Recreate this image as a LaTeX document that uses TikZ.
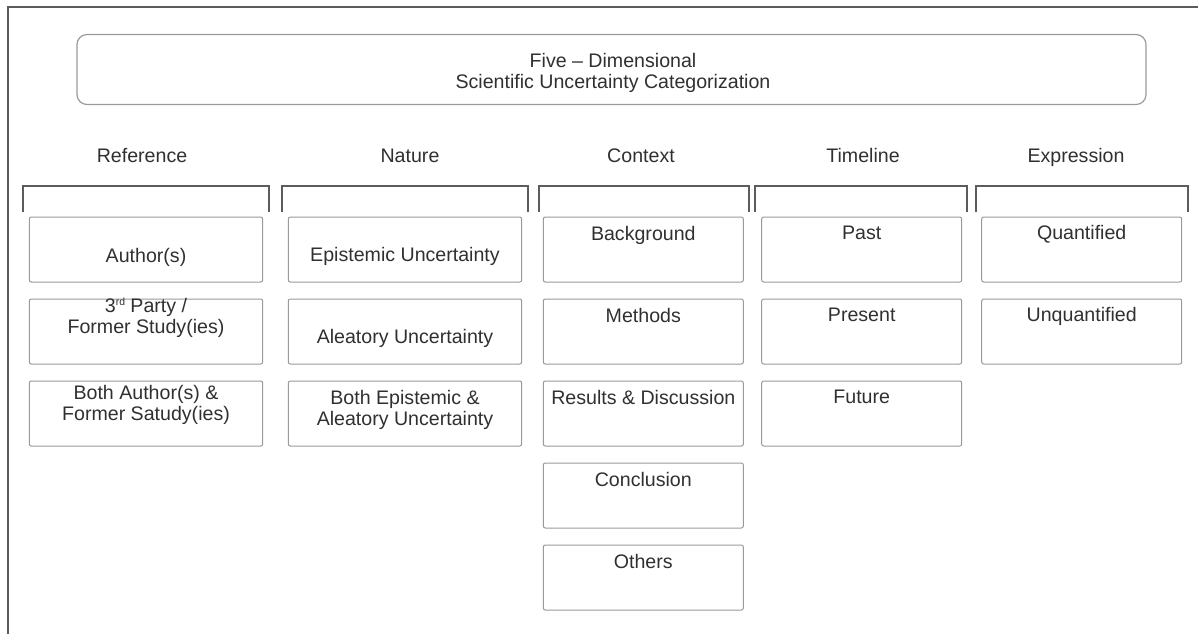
\documentclass[tikz,border=0pt]{standalone}
\usepackage{fontspec}
\setmainfont{Liberation Sans}
\usetikzlibrary{positioning}
\definecolor{boxgray}{HTML}{9A9A9A}
\definecolor{linegray}{HTML}{5C5C5C}
\definecolor{txtgray}{HTML}{303030}

\begin{document}
\begin{tikzpicture}[x=0.5pt,y=-0.5pt,node distance=41pt,
    cell/.style={draw=boxgray,line width=0.5pt,rounded corners=1pt,minimum height=32.5pt,inner sep=0pt},
    wide/.style={cell,minimum width=116.7pt},
    narrow/.style={cell,minimum width=100pt},
    txt/.style={anchor=base,align=center,text=txtgray,inner sep=0pt,font=\fontsize{9.8}{10.5}\selectfont},
    bracket/.style={draw=linegray,line width=0.7pt}]
  \useasboundingbox (0,0) rectangle (1198,634);
  \draw[linegray,line width=1pt] (8,634) -- (8,7) -- (1198,7);

  % title
  \node[draw=boxgray,line width=0.6pt,rounded corners=5pt,minimum width=534.5pt,minimum height=35pt] (title) at (611.5,69.5) {};
  \node[txt] (titletxt) at (613,88) {Five – Dimensional\\Scientific Uncertainty Categorization};

  % dimensions
  \node[txt] (hRef) at (142,162.7) {Reference};
  \node[txt] (hNat) at (410,162.7) {Nature};
  \node[txt] (hCtx) at (641,162.7) {Context};
  \node[txt] (hTim) at (863,162.7) {Timeline};
  \node[txt] (hExp) at (1076,162.7) {Expression};

  \draw[bracket] (23,212) |- (269,186) -- (269,212);
  \draw[bracket] (282,212) |- (528,186) -- (528,212);
  \draw[bracket] (539,212) |- (749,186) -- (749,212);
  \draw[bracket] (755,212) |- (967,186) -- (967,212);
  \draw[bracket] (976,212) |- (1188,186) -- (1188,212);

  % reference
  \node[wide] (ref1) at (146,249.5) {};
  \node[wide] (ref2) [below of=ref1] {};
  \node[wide] (ref3) [below of=ref2] {};
  \node[txt,yshift=-23pt] (ref1t) at (ref1.north) {Author(s)};
  \node[txt,yshift=-17.4pt] (ref2t) at (ref2.north) {3\raisebox{3.2pt}{\fontsize{5.2}{5}\selectfont rd} Party /\\Former Study(ies)};
  \node[txt,yshift=-20pt] (ref3t) at (ref3.north) {Both Author(s) \&\\Former Satudy(ies)};

  % nature
  \node[wide] (nat1) at (405,249.5) {};
  \node[wide] (nat2) [below of=nat1] {};
  \node[wide] (nat3) [below of=nat2] {};
  \node[txt,yshift=-22.6pt] (nat1t) at (nat1.north) {Epistemic Uncertainty};
  \node[txt,yshift=-22.6pt] (nat2t) at (nat2.north) {Aleatory Uncertainty};
  \node[txt,yshift=-22.6pt] (nat3t) at (nat3.north) {Both Epistemic \&\\Aleatory Uncertainty};

  % context
  \node[narrow] (ctx1) at (643.3,249.5) {};
  \node[narrow] (ctx2) [below of=ctx1] {};
  \node[narrow] (ctx3) [below of=ctx2] {};
  \node[narrow] (ctx4) [below of=ctx3] {};
  \node[narrow] (ctx5) [below of=ctx4] {};
  \node[txt,yshift=-11.8pt] (ctx1t) at (ctx1.north) {Background};
  \node[txt,yshift=-11.8pt] (ctx2t) at (ctx2.north) {Methods};
  \node[txt,yshift=-11.8pt] (ctx3t) at (ctx3.north) {Results \& Discussion};
  \node[txt,yshift=-11.8pt] (ctx4t) at (ctx4.north) {Conclusion};
  \node[txt,yshift=-11.8pt] (ctx5t) at (ctx5.north) {Others};

  % timeline
  \node[narrow] (tim1) at (861.7,249.5) {};
  \node[narrow] (tim2) [below of=tim1] {};
  \node[narrow] (tim3) [below of=tim2] {};
  \node[txt,yshift=-11.7pt] (tim1t) at (tim1.north) {Past};
  \node[txt,yshift=-11.7pt] (tim2t) at (tim2.north) {Present};
  \node[txt,yshift=-11.7pt] (tim3t) at (tim3.north) {Future};

  % expression
  \node[narrow] (exp1) at (1081.7,249.5) {};
  \node[narrow] (exp2) [below of=exp1] {};
  \node[txt,yshift=-11.7pt] (exp1t) at (exp1.north) {Quantified};
  \node[txt,yshift=-11.7pt] (exp2t) at (exp2.north) {Unquantified};
\end{tikzpicture}
\end{document}
